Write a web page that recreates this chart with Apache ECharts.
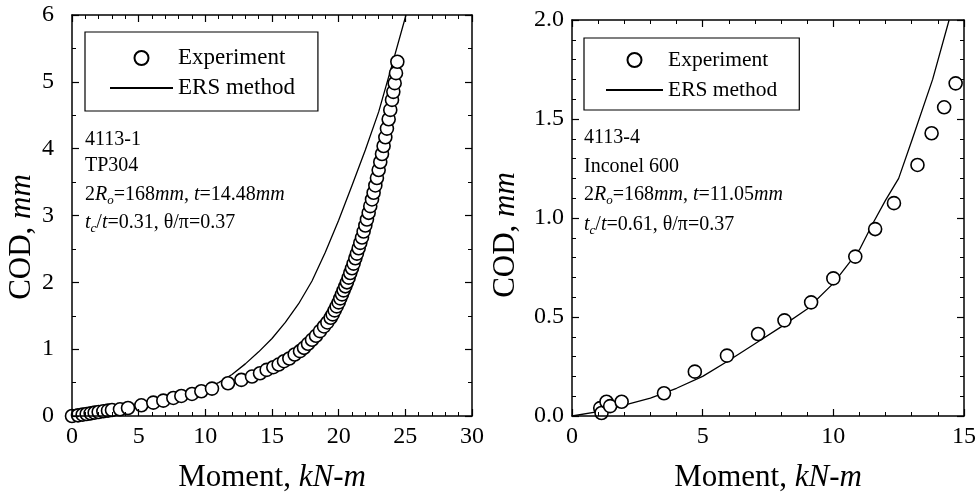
<!DOCTYPE html>
<html><head><meta charset="utf-8">
<script src="https://cdn.jsdelivr.net/npm/echarts@6/dist/echarts.min.js"></script>
<style>html,body{margin:0;padding:0;background:#fff}#c{width:979px;height:500px}</style>
</head><body><div id="c"></div>
<script>
// ---- data (Moment kN-m, COD mm) ----
const leftExperiment = [
[0.0,0.0],[0.45,0.01],[0.8,0.02],[1.1,0.03],[1.4,0.04],[1.7,0.05],[2.0,0.06],[2.35,0.07],[2.7,0.08],[3.0,0.09],[3.6,0.10],[4.2,0.12],
[5.2,0.16],[6.1,0.20],[6.85,0.23],[7.6,0.27],[8.2,0.30],[9.0,0.33],[9.7,0.37],[10.5,0.41],[11.7,0.49],[12.7,0.54],[13.5,0.59],[14.1,0.64],
[14.6,0.69],[15.1,0.73],[15.5,0.77],[15.9,0.82],[16.3,0.86],[16.7,0.92],[17.1,0.97],[17.4,1.02],[17.7,1.08],[18.0,1.14],[18.3,1.20],[18.6,1.27],
[18.9,1.34],[19.15,1.40],[19.4,1.47],[19.55,1.52],[19.7,1.58],[19.85,1.64],[20.0,1.70],[20.12,1.76],[20.25,1.82],[20.37,1.88],[20.5,1.94],
[20.62,2.00],[20.75,2.07],[20.87,2.14],[21.0,2.21],[21.12,2.28],[21.25,2.36],[21.37,2.43],[21.5,2.51],[21.62,2.59],[21.75,2.67],[21.87,2.76],
[22.0,2.85],[22.12,2.94],[22.25,3.04],[22.37,3.14],[22.5,3.24],[22.62,3.34],[22.75,3.45],[22.87,3.56],[23.0,3.68],[23.12,3.80],[23.25,3.92],
[23.37,4.04],[23.5,4.17],[23.62,4.30],[23.75,4.44],[23.87,4.58],[24.0,4.73],[24.1,4.85],[24.2,4.98],[24.3,5.13],[24.4,5.30]
];
const leftErs = [
[0,0],[2,0.06],[4,0.13],[6,0.21],[8,0.30],[10,0.42],[11,0.50],[12,0.62],[13,0.78],[14,0.96],[15,1.16],[16,1.40],[17,1.68],[18,2.02],
[19,2.45],[20,2.93],[21,3.45],[22,3.98],[23,4.55],[24,5.25],[25.05,6.0]
];
const rightExperiment = [
[1.08,0.04],[1.13,0.015],[1.32,0.072],[1.46,0.05],[1.9,0.072],[3.52,0.115],[4.7,0.224],[5.93,0.305],[7.12,0.414],[8.13,0.483],
[9.15,0.574],[10.0,0.695],[10.84,0.805],[11.6,0.944],[12.32,1.075],[13.22,1.268],[13.76,1.428],[14.24,1.559],[14.68,1.68]
];
const rightErs = [
[0,0],[1,0.022],[2,0.055],[3,0.09],[4,0.14],[5,0.2],[6,0.28],[7,0.365],[8,0.45],[9,0.54],[10,0.67],[11,0.84],[11.5,0.97],[12,1.09],
[12.5,1.2],[13,1.39],[13.8,1.7],[14.43,2.0]
];
const leftXTicks = {min:0, max:30, interval:5};
const leftYTicks = {min:0, max:6, interval:1};
const rightXTicks = {min:0, max:15, interval:5};
const rightYTicks = {min:0, max:2, interval:0.5};
const seriesNames = ['Experiment', 'ERS method'];
const leftNotes = ['4113-1', 'TP304', ['168', '14.48'], ['0.31', '0.37']];
const rightNotes = ['4113-4', 'Inconel 600', ['168', '11.05'], ['0.61', '0.37']];
const xTitle = ['Moment, ', 'kN-m'];
const yTitle = ['COD, ', 'mm'];

const FONT = 'Liberation Serif';
const chart = echarts.init(document.getElementById('c'), null, {renderer:'canvas'});

function axis(gridIndex, t, pos, showLabel, minorSplit, labelMargin, fmt) {
  return {
    gridIndex, type:'value', min:t.min, max:t.max, interval:t.interval, position:pos,
    axisLine:{show:true, onZero:false, lineStyle:{color:'#000', width:1.5}},
    axisTick:{show:true, inside:true, length:7, lineStyle:{color:'#000', width:1.2}},
    minorTick:{show:true, splitNumber:minorSplit, length:4, lineStyle:{color:'#000', width:1}},
    splitLine:{show:false}, minorSplitLine:{show:false},
    axisLabel:{show:showLabel, color:'#000', fontFamily:FONT, fontSize:24, margin:labelMargin, formatter:fmt},
    z: 5
  };
}
const intFmt = v => String(Math.round(v));
const oneFmt = v => v.toFixed(1);

const richBase = {
  a:{fontFamily:FONT, fontSize:20, color:'#000', lineHeight:24},
  i:{fontFamily:FONT, fontSize:20, color:'#000', fontStyle:'italic', lineHeight:24},
  si:{fontFamily:FONT, fontSize:13, color:'#000', fontStyle:'italic', lineHeight:12, verticalAlign:'bottom'}
};
function notes(x, ys, n) {
  return [
    {type:'text', x:x, y:ys[0], style:{text:n[0], font:'20px "Liberation Serif"', fill:'#000', verticalAlign:'middle'}},
    {type:'text', x:x, y:ys[1], style:{text:n[1], font:'20px "Liberation Serif"', fill:'#000', verticalAlign:'middle'}},
    {type:'text', x:x, y:ys[2], style:{text:'{a|2}{i|R}{si|o}{a|=' + n[2][0] + '}{i|mm}{a|, }{i|t}{a|=' + n[2][1] + '}{i|mm}', rich:richBase, verticalAlign:'middle'}},
    {type:'text', x:x, y:ys[3], style:{text:'{i|t}{si|c}{a|/}{i|t}{a|=' + n[3][0] + ', θ/π=' + n[3][1] + '}', rich:richBase, verticalAlign:'middle'}}
  ];
}
const titleRich = {
  a:{fontFamily:FONT, fontSize:31, color:'#000'},
  i:{fontFamily:FONT, fontSize:31, color:'#000', fontStyle:'italic'}
};
function xT(x, y) { return {type:'text', x:x, y:y, style:{text:'{a|' + xTitle[0] + '}{i|' + xTitle[1] + '}', rich:titleRich, align:'center', verticalAlign:'middle'}}; }
function yT(x, y) { return {type:'text', x:x, y:y, rotation:Math.PI/2, style:{text:'{a|' + yTitle[0] + '}{i|' + yTitle[1] + '}', rich:titleRich, align:'center', verticalAlign:'middle'}}; }

const legendCommon = {
  orient:'vertical', selectedMode:false, borderColor:'#000', borderWidth:1.2, borderRadius:0,
  itemHeight:14
};

chart.setOption({
  animation:false,
  backgroundColor:'#fff',
  grid:[
    {left:72, right:507, top:15, bottom:84},
    {left:572, right:14, top:20, bottom:84}
  ],
  xAxis:[
    axis(0, leftXTicks, 'bottom', true, 5, 9, intFmt),
    axis(0, leftXTicks, 'top', false, 5, 9, intFmt),
    axis(1, rightXTicks, 'bottom', true, 5, 9, intFmt),
    axis(1, rightXTicks, 'top', false, 5, 9, intFmt)
  ],
  yAxis:[
    axis(0, leftYTicks, 'left', true, 2, 18, intFmt),
    axis(0, leftYTicks, 'right', false, 2, 8, intFmt),
    axis(1, rightYTicks, 'left', true, 5, 8, oneFmt),
    axis(1, rightYTicks, 'right', false, 5, 8, oneFmt)
  ],
  legend:[
    Object.assign({}, legendCommon, {data:seriesNames, left:85, top:32, itemWidth:63, itemGap:4, padding:[13,23,10,24],
      textStyle:{fontFamily:FONT, color:'#000', fontSize:23, lineHeight:26}}),
    Object.assign({}, legendCommon, {data:seriesNames, left:584, top:38, itemWidth:57, itemGap:6, padding:[10,22,8,21],
      textStyle:{fontFamily:FONT, color:'#000', fontSize:21.5, lineHeight:24}})
  ],
  series:[
    {name:'ERS method', type:'line', xAxisIndex:0, yAxisIndex:0, data:leftErs, symbol:'none', smooth:false, clip:true,
      lineStyle:{color:'#000', width:1.3}, itemStyle:{color:'#000', opacity:0}, z:2},
    {name:'Experiment', type:'scatter', xAxisIndex:0, yAxisIndex:0, data:leftExperiment, symbol:'circle', symbolSize:13,
      itemStyle:{color:'#fff', borderColor:'#000', borderWidth:1.6, opacity:1}, z:3},
    {name:'ERS method', type:'line', xAxisIndex:2, yAxisIndex:2, data:rightErs, symbol:'none', smooth:false, clip:true,
      lineStyle:{color:'#000', width:1.3}, itemStyle:{color:'#000', opacity:0}, z:2},
    {name:'Experiment', type:'scatter', xAxisIndex:2, yAxisIndex:2, data:rightExperiment, symbol:'circle', symbolSize:13,
      itemStyle:{color:'#fff', borderColor:'#000', borderWidth:1.6, opacity:1}, z:3}
  ],
  graphic:[].concat(
    notes(85, [140, 166, 195, 223], leftNotes),
    notes(584, [138, 167, 195, 225], rightNotes),
    [xT(272, 478), xT(768, 478), yT(22, 237), yT(506, 235)]
  )
});
</script>
</body></html>
